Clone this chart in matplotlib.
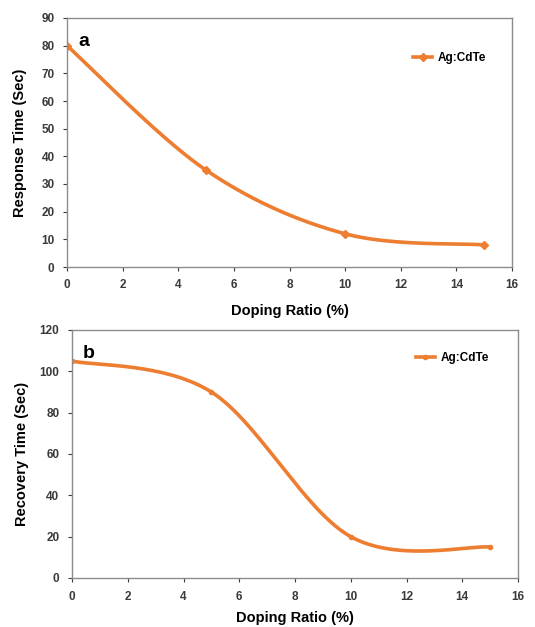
import matplotlib
matplotlib.use('Agg')
import matplotlib.pyplot as plt
import numpy as np

plt.rcParams['font.family'] = ['Liberation Sans', 'DejaVu Sans']
plt.rcParams['font.weight'] = 'bold'
plt.rcParams['axes.labelweight'] = 'bold'

doping = [0, 5, 10, 15]
response = [80, 35, 12, 8]
recovery = [105, 90, 20, 15]
series_name = 'Ag:CdTe'
orange = '#ED7D31'


def smooth(x, y, n=60):
    # Excel-style smoothed line: cubic Bezier segments with Catmull-Rom control points
    x = np.asarray(x, float); y = np.asarray(y, float)
    px = np.concatenate([[x[0]], x, [x[-1]]])
    py = np.concatenate([[y[0]], y, [y[-1]]])
    xs = []; ys = []
    t = np.linspace(0, 1, n)
    for i in range(1, len(x)):
        p0 = np.array([px[i], py[i]])
        p3 = np.array([px[i + 1], py[i + 1]])
        c1 = p0 + (np.array([px[i + 1], py[i + 1]]) - np.array([px[i - 1], py[i - 1]])) / 6
        c2 = p3 - (np.array([px[i + 2], py[i + 2]]) - np.array([px[i], py[i]])) / 6
        b = ((1 - t) ** 3)[:, None] * p0 + (3 * (1 - t) ** 2 * t)[:, None] * c1 \
            + (3 * (1 - t) * t ** 2)[:, None] * c2 + (t ** 3)[:, None] * p3
        xs.append(b[:, 0]); ys.append(b[:, 1])
    return np.concatenate(xs), np.concatenate(ys)


fig = plt.figure(figsize=(5.35, 6.27), dpi=100)
ax1 = fig.add_axes([67 / 535, 1 - 267 / 627, 445 / 535, 249 / 627])
ax2 = fig.add_axes([72 / 535, 1 - 578 / 627, 446 / 535, 248 / 627])

panels = [
    (ax1, response, 'Response Time (Sec)', 'a', 'D', 4, 90, 10, (0.778, 0.839), 9, 10),
    (ax2, recovery, 'Recovery Time (Sec)', 'b', 'o', 3, 120, 20, (0.771, 0.887), 6, 8),
]

for ax, vals, ylabel, tag, mk, ms, ymax, ystep, leg_at, xpad, ypad in panels:
    sx, sy = smooth(doping, vals)
    ax.plot(sx, sy, color=orange, lw=2.6, solid_capstyle='round')
    ax.plot(doping, vals, ls='none', marker=mk, ms=ms, color=orange)
    ax.plot([], [], color=orange, lw=2.6, marker=mk, ms=ms, label=series_name)
    ax.set_xlim(0, 16)
    ax.set_ylim(0, ymax)
    ax.set_xticks(np.arange(0, 17, 2))
    ax.set_yticks(np.arange(0, ymax + 1, ystep))
    ax.tick_params(labelsize=8.5, colors='#3a3a3a', length=3, width=0.8)
    ax.tick_params(axis='x', pad=6)
    ax.tick_params(axis='y', pad=6)
    for s in ax.spines.values():
        s.set_color('#8c8c8c')
        s.set_linewidth(1.0)
    ax.set_xlabel('Doping Ratio (%)', fontsize=10.5, labelpad=xpad)
    ax.set_ylabel(ylabel, fontsize=10.5, labelpad=ypad)
    ax.text(0.025, 0.94, tag, transform=ax.transAxes, fontsize=14,
            fontweight='bold', va='top', ha='left')
    ax.legend(loc='center left', bbox_to_anchor=leg_at, frameon=False,
              fontsize=8.5, handlelength=1.6, handletextpad=0.5,
              borderpad=0, borderaxespad=0)

fig.savefig('out.png', dpi=100)
